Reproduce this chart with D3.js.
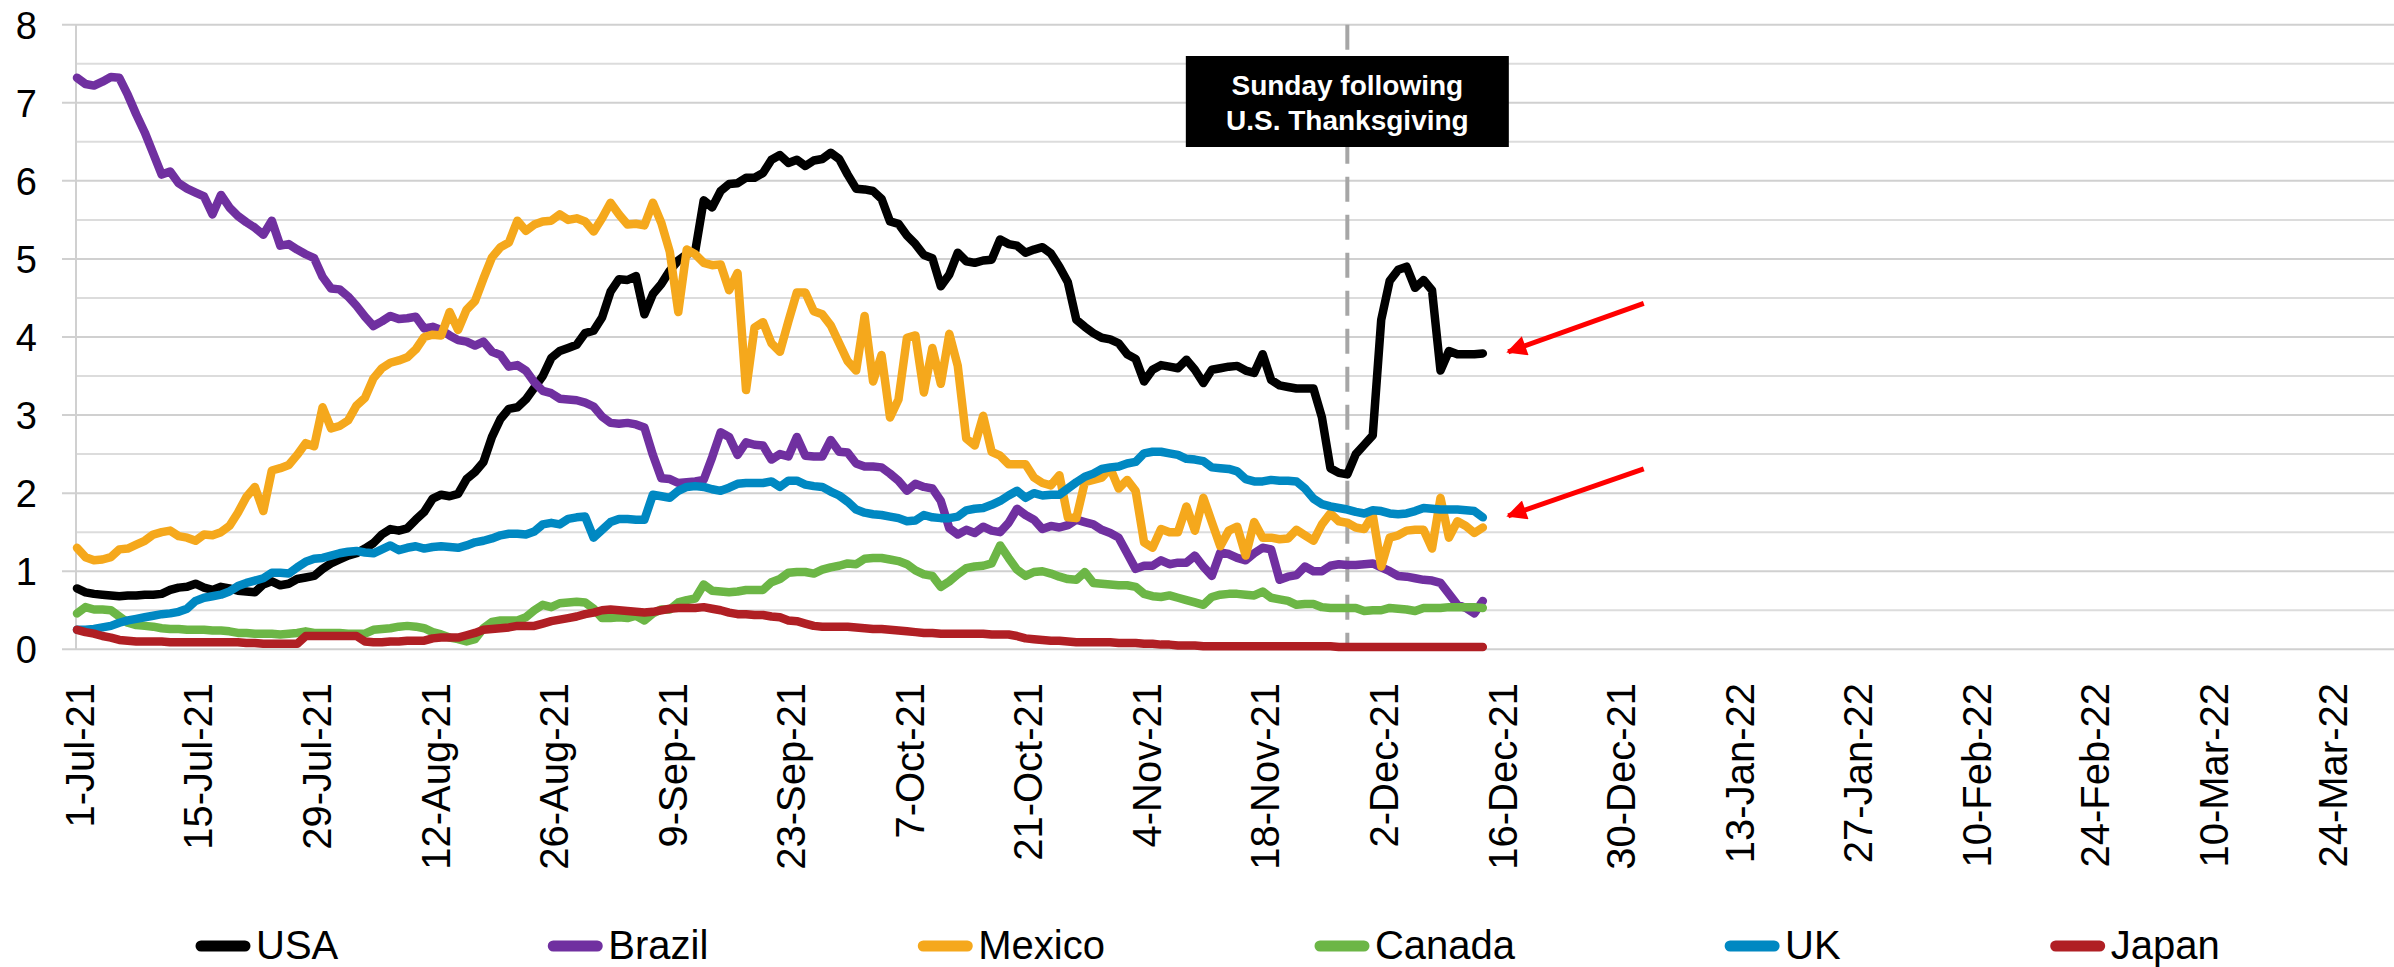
<!DOCTYPE html>
<html>
<head>
<meta charset="utf-8">
<script src="https://d3js.org/d3.v7.min.js"></script>
<style>
  body { margin: 0; background: #fff; }
  svg { font-family: Arial, "Liberation Sans", sans-serif; display: block; }
</style>
</head>
<body>
<div id="chart"></div>
<script>
  // daily values from 1-Jul-21 to 14-Dec-21
  var startDate = Date.UTC(2021, 6, 1);

  var usa = [0.78,0.73,0.71,0.70,0.69,0.68,0.69,0.69,0.70,0.70,
    0.71,0.76,0.79,0.80,0.84,0.79,0.76,0.80,0.78,0.75,
    0.74,0.73,0.83,0.87,0.82,0.84,0.90,0.92,0.94,1.03,
    1.10,1.15,1.20,1.23,1.29,1.36,1.47,1.54,1.52,1.55,
    1.66,1.76,1.93,1.98,1.96,1.99,2.18,2.27,2.40,2.72,
    2.95,3.08,3.10,3.20,3.35,3.50,3.73,3.82,3.86,3.90,
    4.05,4.08,4.25,4.58,4.74,4.73,4.78,4.29,4.55,4.68,
    4.85,4.98,5.06,5.10,5.75,5.66,5.87,5.96,5.97,6.04,
    6.04,6.10,6.27,6.33,6.23,6.27,6.19,6.26,6.28,6.36,
    6.28,6.08,5.90,5.89,5.87,5.77,5.48,5.45,5.30,5.19,
    5.05,5.01,4.65,4.80,5.08,4.97,4.95,4.98,4.99,5.25,
    5.19,5.17,5.08,5.12,5.15,5.07,4.90,4.70,4.22,4.13,
    4.05,3.99,3.97,3.92,3.78,3.72,3.43,3.58,3.64,3.62,
    3.60,3.71,3.58,3.41,3.58,3.60,3.62,3.63,3.57,3.54,
    3.78,3.45,3.38,3.36,3.34,3.34,3.34,2.97,2.32,2.26,
    2.24,2.50,2.62,2.74,4.22,4.72,4.86,4.90,4.63,4.73,
    4.60,3.57,3.82,3.78,3.78,3.78,3.79];

  var brazil = [7.32,7.24,7.22,7.27,7.33,7.32,7.10,6.85,6.62,6.35,
    6.08,6.12,5.97,5.90,5.85,5.80,5.57,5.82,5.66,5.55,
    5.47,5.40,5.31,5.49,5.17,5.19,5.12,5.06,5.01,4.77,
    4.62,4.61,4.52,4.40,4.26,4.14,4.20,4.27,4.23,4.24,
    4.26,4.11,4.13,4.09,4.02,3.96,3.94,3.89,3.94,3.81,
    3.77,3.62,3.64,3.57,3.42,3.31,3.28,3.21,3.20,3.19,
    3.16,3.11,2.98,2.90,2.89,2.90,2.88,2.84,2.49,2.19,
    2.18,2.13,2.14,2.15,2.17,2.46,2.78,2.72,2.49,2.65,
    2.62,2.61,2.43,2.50,2.47,2.72,2.48,2.47,2.47,2.68,
    2.53,2.52,2.38,2.34,2.34,2.33,2.25,2.16,2.03,2.12,
    2.08,2.06,1.90,1.55,1.47,1.53,1.49,1.57,1.52,1.50,
    1.62,1.80,1.72,1.66,1.54,1.58,1.56,1.59,1.66,1.63,
    1.60,1.53,1.49,1.43,1.23,1.03,1.07,1.07,1.14,1.09,
    1.11,1.11,1.20,1.06,0.94,1.24,1.22,1.17,1.14,1.23,
    1.30,1.28,0.89,0.93,0.95,1.06,1.00,1.00,1.07,1.09,
    1.08,1.08,1.09,1.10,1.05,1.00,0.94,0.93,0.91,0.89,
    0.88,0.85,0.71,0.57,0.53,0.46,0.62];

  var mexico = [1.30,1.18,1.14,1.15,1.18,1.28,1.29,1.34,1.39,1.47,
    1.50,1.52,1.45,1.43,1.39,1.47,1.46,1.50,1.58,1.75,
    1.95,2.08,1.77,2.29,2.32,2.36,2.49,2.64,2.60,3.10,
    2.83,2.86,2.93,3.12,3.22,3.47,3.60,3.67,3.70,3.74,
    3.84,4.00,4.03,4.02,4.32,4.09,4.35,4.46,4.75,5.02,
    5.15,5.21,5.49,5.36,5.44,5.48,5.49,5.57,5.50,5.52,
    5.48,5.35,5.52,5.72,5.57,5.44,5.45,5.43,5.72,5.46,
    5.09,4.32,5.12,5.06,4.95,4.92,4.93,4.60,4.82,3.32,
    4.12,4.19,3.92,3.81,4.20,4.57,4.57,4.33,4.29,4.15,
    3.92,3.69,3.57,4.27,3.43,3.77,2.97,3.20,3.99,4.02,
    3.29,3.86,3.40,4.04,3.63,2.70,2.61,2.99,2.53,2.48,
    2.37,2.37,2.37,2.20,2.13,2.10,2.23,1.69,1.68,2.14,
    2.17,2.20,2.32,2.06,2.17,2.03,1.37,1.30,1.54,1.50,
    1.50,1.83,1.52,1.94,1.63,1.32,1.52,1.57,1.20,1.63,
    1.43,1.43,1.41,1.42,1.53,1.46,1.39,1.60,1.74,1.64,
    1.62,1.56,1.54,1.72,1.06,1.43,1.46,1.52,1.53,1.53,
    1.29,1.94,1.43,1.64,1.58,1.49,1.56];

  var canada = [0.46,0.54,0.51,0.51,0.50,0.42,0.34,0.31,0.30,0.29,
    0.27,0.26,0.26,0.25,0.25,0.25,0.24,0.24,0.23,0.21,
    0.21,0.20,0.20,0.20,0.19,0.20,0.21,0.23,0.21,0.21,
    0.21,0.21,0.20,0.20,0.20,0.25,0.26,0.27,0.29,0.30,
    0.29,0.27,0.22,0.19,0.15,0.13,0.10,0.13,0.27,0.35,
    0.37,0.37,0.37,0.41,0.50,0.57,0.54,0.59,0.60,0.61,
    0.60,0.52,0.40,0.40,0.41,0.40,0.43,0.37,0.46,0.51,
    0.51,0.60,0.63,0.65,0.83,0.75,0.74,0.73,0.74,0.76,
    0.76,0.76,0.86,0.90,0.98,0.99,0.99,0.97,1.02,1.05,
    1.07,1.10,1.09,1.16,1.17,1.17,1.15,1.13,1.09,1.01,
    0.96,0.94,0.80,0.87,0.96,1.04,1.06,1.07,1.10,1.33,
    1.17,1.02,0.94,0.99,1.00,0.97,0.93,0.90,0.89,0.99,
    0.85,0.84,0.83,0.82,0.82,0.80,0.71,0.68,0.67,0.69,
    0.66,0.63,0.60,0.57,0.67,0.70,0.71,0.71,0.70,0.69,
    0.74,0.66,0.64,0.62,0.57,0.58,0.58,0.54,0.53,0.53,
    0.53,0.53,0.49,0.50,0.50,0.53,0.52,0.51,0.49,0.53,
    0.53,0.53,0.54,0.54,0.54,0.54,0.53];

  var uk = [0.25,0.25,0.26,0.28,0.30,0.34,0.37,0.39,0.41,0.43,
    0.45,0.46,0.48,0.52,0.62,0.66,0.68,0.70,0.74,0.81,
    0.85,0.88,0.91,0.98,0.98,0.97,1.05,1.12,1.16,1.17,
    1.20,1.23,1.25,1.26,1.24,1.23,1.28,1.33,1.27,1.30,
    1.32,1.29,1.31,1.32,1.31,1.30,1.33,1.37,1.39,1.42,
    1.46,1.48,1.48,1.47,1.51,1.60,1.62,1.60,1.67,1.69,
    1.70,1.43,1.53,1.63,1.67,1.67,1.66,1.66,1.98,1.96,
    1.94,2.03,2.08,2.09,2.08,2.05,2.03,2.07,2.12,2.13,
    2.13,2.13,2.15,2.08,2.16,2.16,2.11,2.09,2.08,2.02,
    1.97,1.89,1.79,1.75,1.73,1.72,1.70,1.68,1.64,1.65,
    1.72,1.69,1.68,1.68,1.70,1.78,1.80,1.81,1.85,1.90,
    1.97,2.03,1.94,2.00,1.97,1.98,1.98,2.06,2.14,2.21,
    2.25,2.31,2.33,2.34,2.38,2.40,2.51,2.53,2.53,2.51,
    2.49,2.44,2.43,2.41,2.33,2.32,2.31,2.28,2.18,2.15,
    2.15,2.17,2.16,2.16,2.15,2.06,1.93,1.86,1.83,1.81,
    1.79,1.76,1.74,1.78,1.77,1.74,1.73,1.74,1.77,1.81,
    1.80,1.79,1.79,1.79,1.78,1.77,1.69];

  var japan = [0.25,0.22,0.20,0.17,0.15,0.12,0.11,0.10,0.10,0.10,
    0.10,0.09,0.09,0.09,0.09,0.09,0.09,0.09,0.09,0.09,
    0.08,0.08,0.07,0.07,0.07,0.07,0.07,0.17,0.17,0.17,
    0.17,0.17,0.17,0.17,0.10,0.09,0.09,0.10,0.10,0.11,
    0.11,0.11,0.14,0.15,0.15,0.15,0.18,0.21,0.25,0.26,
    0.27,0.28,0.30,0.30,0.30,0.33,0.36,0.38,0.40,0.42,
    0.45,0.47,0.50,0.51,0.50,0.49,0.48,0.47,0.48,0.50,
    0.52,0.53,0.53,0.53,0.54,0.52,0.50,0.47,0.45,0.45,
    0.44,0.44,0.42,0.41,0.37,0.36,0.33,0.30,0.29,0.29,
    0.29,0.29,0.28,0.27,0.26,0.26,0.25,0.24,0.23,0.22,
    0.21,0.21,0.20,0.20,0.20,0.20,0.20,0.20,0.19,0.19,
    0.19,0.17,0.14,0.13,0.12,0.11,0.11,0.10,0.09,0.09,
    0.09,0.09,0.09,0.08,0.08,0.08,0.07,0.07,0.06,0.06,
    0.05,0.05,0.05,0.04,0.04,0.04,0.04,0.04,0.04,0.04,
    0.04,0.04,0.04,0.04,0.04,0.04,0.04,0.04,0.04,0.03,
    0.03,0.03,0.03,0.03,0.03,0.03,0.03,0.03,0.03,0.03,
    0.03,0.03,0.03,0.03,0.03,0.03,0.03];

  var seriesNames = ["USA", "Brazil", "Mexico", "Canada", "UK", "Japan"];
  var seriesValues = [usa, brazil, mexico, canada, uk, japan];
  var seriesColors = ["#000000", "#7030a0", "#f5a81c", "#6cb646", "#0088c2", "#b01f24"];

  var yTicks = [0, 1, 2, 3, 4, 5, 6, 7, 8];
  var yMinorTicks = [0.5, 1.5, 2.5, 3.5, 4.5, 5.5, 6.5, 7.5];

  var noteDate = new Date(Date.UTC(2021, 10, 28));   // Sunday following U.S. Thanksgiving
  var noteLines = ["Sunday following", "U.S. Thanksgiving"];
  // arrows: [tail date, tail value, tip date, tip value]
  var arrows = [
    [Date.UTC(2022, 0, 2), 4.43, Date.UTC(2021, 11, 17), 3.81],
    [Date.UTC(2022, 0, 2), 2.31, Date.UTC(2021, 11, 17), 1.71]
  ];

  var width = 2394, height = 967;
  var dayMs = 86400000;

  var x = d3.scaleUtc()
    .domain([new Date(startDate), new Date(Date.UTC(2022, 2, 31))])
    .range([77, 2389]);
  var y = d3.scaleLinear().domain([0, 8]).range([649.3, 24.7]);

  var svg = d3.select("#chart").append("svg")
    .attr("width", width).attr("height", height);

  // gridlines
  svg.append("g").selectAll("line").data(yMinorTicks).enter().append("line")
    .attr("x1", 76).attr("x2", width)
    .attr("y1", function (d) { return y(d); }).attr("y2", function (d) { return y(d); })
    .attr("stroke", "#dcdcdc").attr("stroke-width", 2);
  svg.append("g").selectAll("line").data(yTicks).enter().append("line")
    .attr("x1", 62).attr("x2", width)
    .attr("y1", function (d) { return y(d); }).attr("y2", function (d) { return y(d); })
    .attr("stroke", "#d0d0d0").attr("stroke-width", 2);
  svg.append("line")
    .attr("x1", 76).attr("x2", 76).attr("y1", y(8)).attr("y2", y(0))
    .attr("stroke", "#d0d0d0").attr("stroke-width", 2);

  // y labels
  svg.append("g").selectAll("text").data(yTicks).enter().append("text")
    .attr("x", 37).attr("y", function (d) { return y(d) + 14; })
    .attr("text-anchor", "end")
    .attr("font-size", 38)
    .text(function (d) { return d; });

  // x labels, every 14 days
  var fmt = d3.utcFormat("%-d-%b-%y");
  var xTicks = d3.utcDay.range(new Date(startDate), new Date(Date.UTC(2022, 2, 31)), 14);
  svg.append("g").selectAll("text").data(xTicks).enter().append("text")
    .attr("transform", function (d) { return "translate(" + x(d) + ",683) rotate(-90)"; })
    .attr("text-anchor", "end")
    .attr("dy", "0.42em")
    .attr("font-size", 40)
    .text(function (d) { return fmt(d); });

  // dashed marker
  svg.append("line")
    .attr("x1", x(noteDate)).attr("x2", x(noteDate))
    .attr("y1", y(8)).attr("y2", y(0))
    .attr("stroke", "#a6a6a6").attr("stroke-width", 4)
    .attr("stroke-dasharray", "25,13");

  // series
  var line = d3.line()
    .x(function (d, i) { return x(new Date(startDate + i * dayMs)); })
    .y(function (d) { return y(d); });

  svg.append("g").selectAll("path").data(seriesValues).enter().append("path")
    .attr("d", line)
    .attr("fill", "none")
    .attr("stroke", function (d, i) { return seriesColors[i]; })
    .attr("stroke-width", 8.5)
    .attr("stroke-linejoin", "round")
    .attr("stroke-linecap", "round");

  // note box
  var boxW = 323, boxH = 91;
  var note = svg.append("g").attr("transform", "translate(" + x(noteDate) + ",56)");
  note.append("rect")
    .attr("x", -boxW / 2).attr("y", 0).attr("width", boxW).attr("height", boxH)
    .attr("fill", "#000");
  note.selectAll("text").data(noteLines).enter().append("text")
    .attr("x", 0).attr("y", function (d, i) { return 39 + i * 35; })
    .attr("text-anchor", "middle")
    .attr("fill", "#fff")
    .attr("font-weight", "bold")
    .attr("font-size", 28)
    .text(function (d) { return d; });

  // red arrows
  svg.append("defs").append("marker")
    .attr("id", "head")
    .attr("viewBox", "0 0 10 10")
    .attr("refX", 9).attr("refY", 5)
    .attr("markerWidth", 4.4).attr("markerHeight", 4)
    .attr("markerUnits", "strokeWidth")
    .attr("orient", "auto")
    .append("path").attr("d", "M0,0L10,5L0,10Z").attr("fill", "#ff0000");

  svg.append("g").selectAll("line").data(arrows).enter().append("line")
    .attr("x1", function (d) { return x(new Date(d[0])); })
    .attr("y1", function (d) { return y(d[1]); })
    .attr("x2", function (d) { return x(new Date(d[2])); })
    .attr("y2", function (d) { return y(d[3]); })
    .attr("stroke", "#ff0000").attr("stroke-width", 5)
    .attr("marker-end", "url(#head)");

  // legend
  var legend = svg.append("g");
  var lx = 195;
  seriesNames.forEach(function (name, i) {
    legend.append("line")
      .attr("x1", lx + 6).attr("x2", lx + 50)
      .attr("y1", 946).attr("y2", 946)
      .attr("stroke", seriesColors[i]).attr("stroke-width", 11)
      .attr("stroke-linecap", "round");
    var t = legend.append("text")
      .attr("x", lx + 61).attr("y", 959)
      .attr("font-size", 40)
      .text(name);
    lx = lx + 61 + t.node().getComputedTextLength() + 209;
  });
</script>
</body>
</html>
